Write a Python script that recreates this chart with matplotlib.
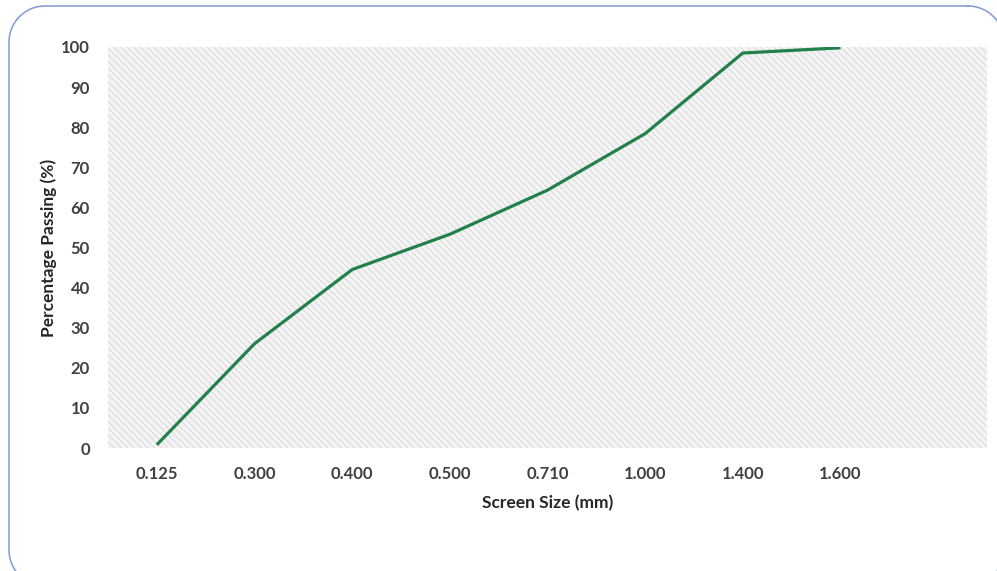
import matplotlib
matplotlib.use("Agg")
import matplotlib.pyplot as plt
import numpy as np
from matplotlib.patches import Rectangle

# sieve sizes (mm) and cumulative passing (%)
screen_sizes = ["0.125", "0.300", "0.400", "0.500", "0.710", "1.000", "1.400", "1.600"]
passing = [0.8, 26.0, 44.5, 53.3, 64.3, 78.4, 98.5, 99.8]

y_ticks = list(range(0, 101, 10))

plt.rcParams["font.family"] = ["Lato", "DejaVu Sans"]
plt.rcParams["hatch.linewidth"] = 0.7

W, H = 997, 571
fig = plt.figure(figsize=(W / 100, H / 100), dpi=100)


def rounded_outline(x0, y0, x1, y1, r, n=30):
    # corners in pixel space, y pointing down
    pts = []
    for cx, cy, a0 in [(x1 - r, y0 + r, -90), (x1 - r, y1 - r, 0),
                       (x0 + r, y1 - r, 90), (x0 + r, y0 + r, 180)]:
        t = np.radians(np.linspace(a0, a0 + 90, n))
        pts.append(np.column_stack([cx + r * np.cos(t), cy + r * np.sin(t)]))
    pts = np.vstack(pts + [pts[0][:1]])
    return pts[:, 0], pts[:, 1]


# rounded frame around the whole chart, drawn in pixel units on a blank axes
bg_ax = fig.add_axes([0, 0, 1, 1], zorder=-1)
bg_ax.set_xlim(0, W)
bg_ax.set_ylim(H, 0)
bg_ax.axis("off")
fx, fy = rounded_outline(9, 6, 1004, 586, 36)
bg_ax.plot(fx, fy, color="#8198d6", linewidth=1.1)

ax = fig.add_axes([0.1083, 0.2154, 0.8817, 0.7023])

# hatched plot background
ax.set_facecolor("#f4f4f4")
bg = Rectangle((0, 0), 1, 1, transform=ax.transAxes, fill=False,
               hatch="\\\\\\\\\\", edgecolor="#d8d8d8", linewidth=0, zorder=0)
ax.add_patch(bg)

x = list(range(len(screen_sizes)))
ax.plot(x, passing, color="#23804a", linewidth=2.3, solid_capstyle="butt", zorder=3)

ax.set_xlim(-0.5, len(screen_sizes) + 0.5)
ax.set_ylim(0, 100)
ax.set_xticks(x)
ax.set_xticklabels(screen_sizes)
ax.set_yticks(y_ticks)

for s in ax.spines.values():
    s.set_visible(False)
ax.tick_params(axis="both", length=0, labelsize=12, labelcolor="#404040")
ax.tick_params(axis="x", pad=13)
ax.tick_params(axis="y", pad=13)
for lbl in ax.get_xticklabels() + ax.get_yticklabels():
    lbl.set_fontweight("bold")

ax.set_xlabel("Screen Size (mm)", fontsize=12.5, fontweight="bold",
              color="#262626", labelpad=9)
ax.set_ylabel("Percentage Passing (%)", fontsize=12.5, fontweight="bold",
              color="#262626", labelpad=3)

fig.savefig("out.png", dpi=100)
